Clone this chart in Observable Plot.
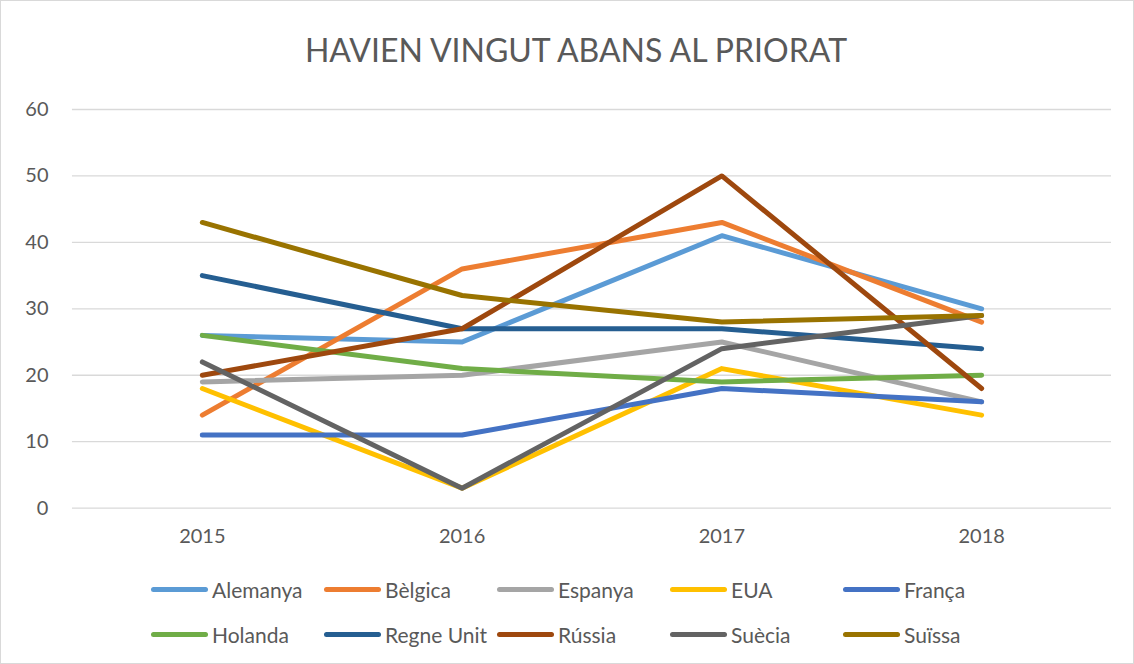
<!DOCTYPE html>
<html>
<head>
<meta charset="utf-8">
<script src="https://cdn.jsdelivr.net/npm/d3@7"></script>
<script src="https://cdn.jsdelivr.net/npm/@observablehq/plot@0.6"></script>
<style>
  html, body { margin: 0; padding: 0; background: #fff; }
  #frame { position: relative; width: 1132px; height: 662px; border: 1px solid #d9d9d9; overflow: hidden; font-family: Lato, "Open Sans", sans-serif; }
  #title { position: absolute; top: 29px; left: 0; width: 1150px; text-align: center; font-size: 32px; color: #595959; }
  #chart { position: absolute; top: 89px; left: -1px; }
  .legend { position: absolute; left: 150px; display: flex; }
  .item { width: 173px; display: flex; align-items: center; font-size: 21px; color: #595959; white-space: nowrap; }
  .sw { width: 57px; height: 5px; border-radius: 3px; margin-right: 4px; }
</style>
</head>
<body>
<div id="frame">
  <div id="title">HAVIEN VINGUT ABANS AL PRIORAT</div>
  <div id="chart"></div>
  <div class="legend" id="leg1" style="top:576px"></div>
  <div class="legend" id="leg2" style="top:621px"></div>
</div>
<script>
const years = ["2015", "2016", "2017", "2018"];
const countries = ["Alemanya", "Bèlgica", "Espanya", "EUA", "França", "Holanda", "Regne Unit", "Rússia", "Suècia", "Suïssa"];
const colors = ["#5B9BD5", "#ED7D31", "#A5A5A5", "#FFC000", "#4472C4", "#70AD47", "#255E91", "#9E480E", "#636363", "#997300"];
const alemanya  = [26, 25, 41, 30];
const belgica   = [14, 36, 43, 28];
const espanya   = [19, 20, 25, 16];
const eua       = [18, 3, 21, 14];
const franca    = [11, 11, 18, 16];
const holanda   = [26, 21, 19, 20];
const regneUnit = [35, 27, 27, 24];
const russia    = [20, 27, 50, 18];
const suecia    = [22, 3, 24, 29];
const suissa    = [43, 32, 28, 29];
const yTicks = [0, 10, 20, 30, 40, 50, 60];

const series = [alemanya, belgica, espanya, eua, franca, holanda, regneUnit, russia, suecia, suissa];
const data = [];
series.forEach((vals, i) => vals.forEach((v, j) => data.push({country: countries[i], year: years[j], value: v})));

const chart = Plot.plot({
  width: 1134,
  height: 468,
  marginLeft: 72,
  marginRight: 22,
  marginTop: 19,
  marginBottom: 50,
  style: { fontFamily: "Lato, 'Open Sans', sans-serif", fontSize: "20px", color: "#595959", background: "transparent" },
  x: { type: "point", domain: years, padding: 0.5, label: null },
  y: { domain: [0, 60], label: null },
  color: { domain: countries, range: colors },
  marks: [
    Plot.gridY(yTicks, { stroke: "#d9d9d9", strokeOpacity: 1, strokeWidth: 1.3 }),
    Plot.axisY(yTicks, { tickSize: 0, tickPadding: 24, fontSize: 20, fill: "#595959", label: null }),
    Plot.axisX({ tickSize: 0, tickPadding: 21, fontSize: 20, fill: "#595959", label: null }),
    Plot.line(data, { x: "year", y: "value", z: "country", stroke: "country", strokeWidth: 5, strokeLinecap: "round", strokeLinejoin: "round" })
  ]
});
document.getElementById("chart").appendChild(chart);

function makeLegend(id, from, to) {
  const el = document.getElementById(id);
  for (let i = from; i < to; i++) {
    const item = document.createElement("div");
    item.className = "item";
    const sw = document.createElement("div");
    sw.className = "sw";
    sw.style.background = colors[i];
    const t = document.createElement("span");
    t.textContent = countries[i];
    item.appendChild(sw);
    item.appendChild(t);
    el.appendChild(item);
  }
}
makeLegend("leg1", 0, 5);
makeLegend("leg2", 5, 10);
</script>
</body>
</html>
